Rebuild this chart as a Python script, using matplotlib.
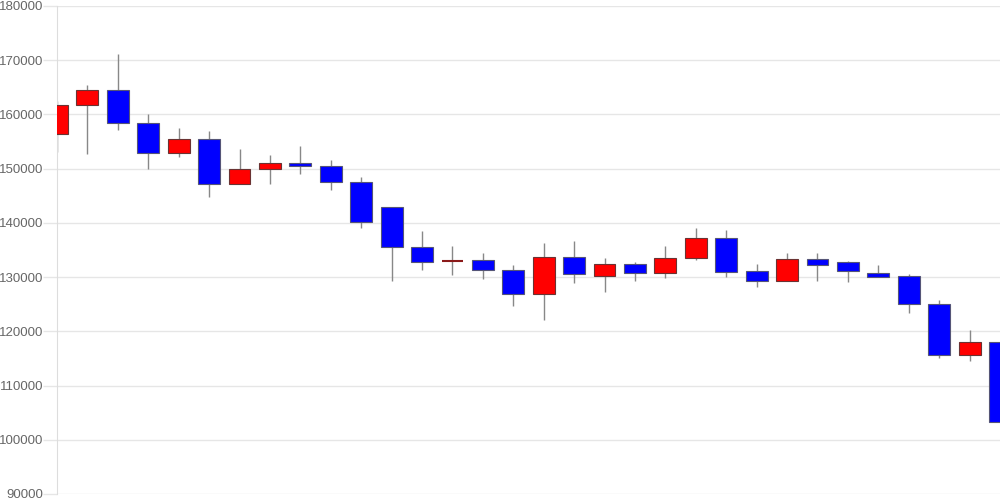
import matplotlib
matplotlib.use("Agg")
import matplotlib.pyplot as plt
import numpy as np

# OHLC values (red = up, blue = down)
opens = [156400, 161700, 164600, 158500, 152900, 155500, 147200, 150000,
         151000, 150500, 147600, 143000, 135500, 133000, 133100, 131400,
         126800, 133800, 130200, 132400, 130800, 133500, 137200, 131100,
         129300, 133300, 132700, 130800, 130200, 125000, 115700, 118000]
closes = [161700, 164500, 158500, 152900, 155500, 147200, 150000, 151000,
          150500, 147600, 140100, 135500, 132800, 133000, 131400, 126800,
          133800, 130600, 132400, 130800, 133500, 137200, 131000, 129300,
          133400, 132200, 131200, 130100, 125000, 115700, 118000, 103200]
highs = [162500, 165500, 171100, 160100, 157500, 156900, 153600, 152600,
         154200, 151600, 148500, 143000, 138500, 135700, 134400, 132300,
         136300, 136700, 133500, 132700, 135800, 139100, 138600, 132400,
         134400, 134400, 133000, 132200, 130500, 125700, 120200, 118000]
lows = [153100, 152700, 157200, 150000, 152200, 144800, 147200, 147100,
        149100, 146100, 139100, 129300, 131400, 130400, 129700, 124600,
        122000, 129000, 127300, 129300, 129900, 133200, 130100, 128100,
        129300, 129300, 129100, 130000, 123300, 115000, 114600, 103200]

y_ticks = np.arange(90000, 180001, 10000)

plt.rcParams['font.family'] = ['Liberation Sans', 'DejaVu Sans']

fig = plt.figure(figsize=(10, 5), dpi=100)
ax = fig.add_axes([0.057, 0.012, 0.943, 0.976])

x = np.arange(len(opens))
width = 0.72
for i in x:
    o, c, h, l = opens[i], closes[i], highs[i], lows[i]
    up = c >= o
    color = '#ff0000' if up else '#0000ff'
    edge = '#6a3333' if up else '#555577'
    ax.vlines(i, l, h, color='#888888', linewidth=1, zorder=2)
    if o == c:
        ax.hlines(o, i - width / 2, i + width / 2, color='#8b1a1a', linewidth=1.5, zorder=3)
    else:
        ax.bar(i, abs(c - o), width=width, bottom=min(o, c), color=color,
               edgecolor=edge, linewidth=0.8, zorder=3)

ax.set_xlim(0, len(opens) - 1)
ax.set_ylim(90000, 180000)
ax.set_yticks(y_ticks)
ax.set_yticklabels([str(v) for v in y_ticks])
ax.set_xticks([])
ax.grid(axis='y', color='#e6e6e6', linewidth=1, zorder=0)
ax.tick_params(axis='y', length=10, width=1, color='#e6e6e6', labelcolor='#666666',
               labelsize=9.5, pad=0)
for side in ['top', 'right', 'bottom']:
    ax.spines[side].set_visible(False)
ax.spines['left'].set_color('#dddddd')

fig.savefig('out.png', dpi=100)
